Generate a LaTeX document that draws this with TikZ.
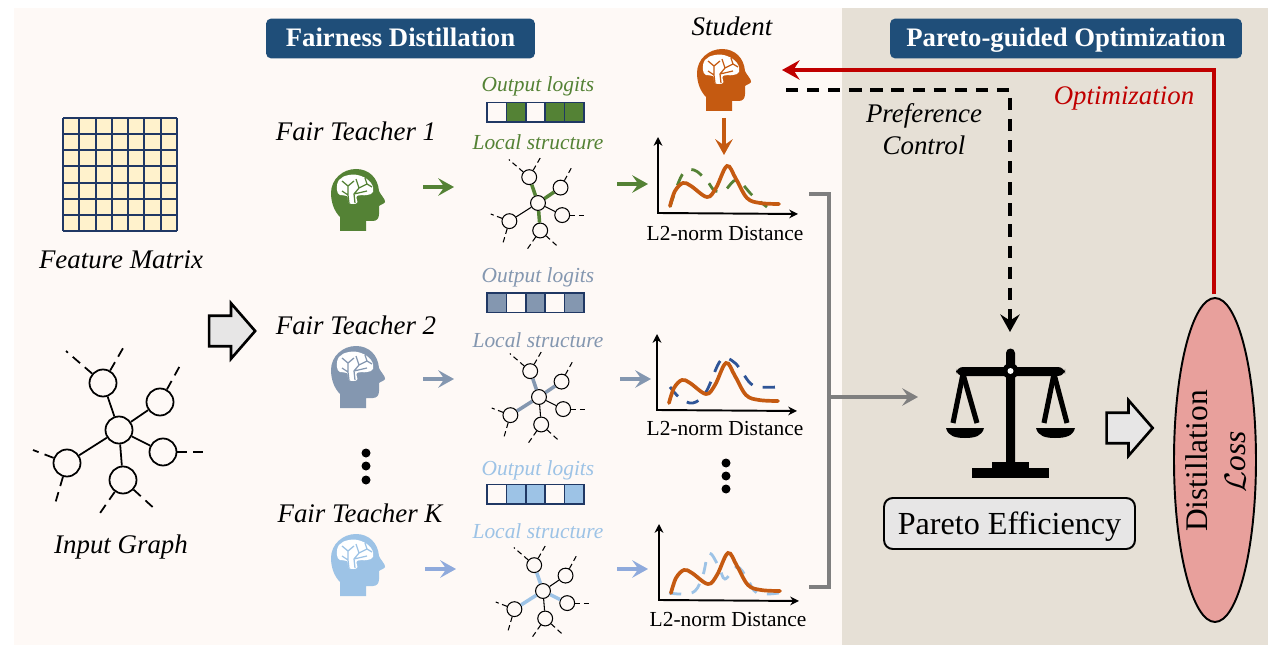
\documentclass[tikz,border=0pt]{standalone}
\usepackage{fontspec}
\setmainfont{Liberation Serif}
\usetikzlibrary{arrows.meta,shapes.arrows,shapes.geometric}

\definecolor{paleback}{HTML}{FEF9F6}
\definecolor{beigeback}{HTML}{E6E0D6}
\definecolor{titleblue}{HTML}{1F4E79}
\definecolor{gridblue}{HTML}{203864}
\definecolor{cellyellow}{HTML}{FFF2CC}
\definecolor{teachone}{HTML}{548235}
\definecolor{teachtwo}{HTML}{8497B0}
\definecolor{teachk}{HTML}{9DC3E6}
\definecolor{arrowk}{HTML}{8FAADC}
\definecolor{studorange}{HTML}{C55A11}
\definecolor{curveblue}{HTML}{2F5597}
\definecolor{optred}{HTML}{C00000}
\definecolor{lossred}{HTML}{E8A09C}
\definecolor{boxgray}{HTML}{E7E6E6}
\definecolor{linegray}{HTML}{7F7F7F}

\tikzset{
  gnode/.style={circle,draw,fill=paleback,inner sep=0pt},
  lab/.style={font=\fontsize{15.3}{18}\selectfont\itshape,inner sep=0pt,text height=10.2pt,text depth=0pt},
  sublab/.style={font=\fontsize{12.2}{14}\selectfont\itshape,inner sep=0pt,text height=8.2pt,text depth=0pt},
  xlab/.style={font=\fontsize{12.2}{14}\selectfont,inner sep=0pt,text height=8.2pt,text depth=0pt},
  titlebox/.style={fill=titleblue,rounded corners=3pt,text=white,inner sep=0pt,text height=9.6pt,text depth=0pt,
    font=\fontsize{15.2}{18}\selectfont\bfseries,minimum height=0.8cm},
  blockarrow/.style={single arrow,draw,line width=1.5pt,fill=boxgray,inner sep=0pt,
    minimum height=0.92cm,minimum width=1.06cm,single arrow head extend=0.25cm,
    single arrow tip angle=98},
  flow/.style={line width=1.9pt,-{Stealth[length=9pt,width=10pt,inset=3.5pt]}},
  axis/.style={line width=1.1pt,{Stealth[length=5pt,width=5pt]}-{Stealth[length=5pt,width=5pt]}},
  dashcurve/.style={line width=1.6pt,dash pattern=on 7pt off 6pt},
}

% head with brain, #1 = centre, #2 = colour
\newcommand{\headicon}[2]{
  \begin{scope}[shift={(#1)}]
    \fill[#2] (-19,31) -- (-19,17) .. controls (-25,11) and (-28,2) .. (-28,-7)
      .. controls (-28,-21) and (-16,-31) .. (-3,-31)
      .. controls (10,-31) and (19,-22) .. (20,-9)
      .. controls (21,-6) and (27,0) .. (26,2)
      .. controls (25,4) and (21,5) .. (20,6) -- (20,14)
      .. controls (20,18) and (18,21) .. (14,21) -- (7,21) -- (7,31) -- cycle;
    \fill[white] plot[smooth cycle,tension=0.7] coordinates {(-22,-10) (-20,-20) (-10,-25) (2,-24)
      (12,-17) (14,-8) (8,-5) (-2,-4) (-2,3) (-10,3) (-12,-4) (-19,-5)};
    \draw[#2,line width=0.7pt] (-10,3) -- (-11,-5) -- (-17,-9) (-11,-5) -- (-11,-14) -- (-17,-19)
      (-11,-14) -- (-5,-19) (-4,3) -- (-5,-6) -- (0,-12) -- (-3,-21) (0,-12) -- (8,-16) -- (6,-22)
      (-5,-6) -- (8,-9) (8,-16) -- (13,-13);
  \end{scope}
}

% #1 = name, #2 = centre, #3 = scale, #4 = line width, #5 = colour of thick edges, #6 = thick edges
\newcommand{\gnet}[6]{
  \begin{scope}[shift={(#2)},scale=#3,line width=#4]
    \node[gnode,minimum size=#3*0.54cm] (#1m) at (0,0) {};
    \foreach \n/\px/\py in {a/-16/-47,b/41/-28,c/44/22,d/4/50,e/-52/33}
      \node[gnode,minimum size=#3*0.54cm] (#1\n) at (\px,\py) {};
    \foreach \n in {a,b,c,d,e} \draw (#1m) -- (#1\n);
    \foreach \n in {#6} \draw[#5,line width=2pt] (#1m) -- (#1\n);
    \foreach \n/\px/\py in {a/-53/-79,a/7/-87,b/63/-68,c/90/22,d/38/81,d/-21/86,e/-86/20,e/-64/74}
    {
      \coordinate (#1f\n) at (\px,\py);
      \draw[dash pattern=on #3*5.5pt off #3*3.6pt] (#1\n) -- (#1f\n);
    }
  \end{scope}
}

% #1 = top edge, #2 = colour, #3 = filled cells
\newcommand{\logitbar}[3]{
  \foreach \i in {0,...,4}
    \draw[gridblue,line width=0.9pt] (487+19.4*\i,#1) rectangle (487+19.4*\i+19.4,#1+19.5);
  \foreach \i in {#3}
    \filldraw[fill=#2,draw=gridblue,line width=0.9pt] (487+19.4*\i,#1) rectangle (487+19.4*\i+19.4,#1+19.5);
}

% #1 = name, #2 = origin, #3 = colour, #4 = dashed curve
\newcommand{\distplot}[4]{
  \begin{scope}[shift={(#2)}]
    \coordinate (#1o) at (0,0);
    \coordinate (#1y) at (0,-76);
    \coordinate (#1x) at (140,1);
    \draw[axis] (#1y) -- (#1o) -- (#1x);
    \draw[#3,dashcurve] plot[smooth,tension=0.6] coordinates {#4};
    \draw[studorange,line width=2.1pt,line cap=round] plot[smooth,tension=0.6] coordinates
      {(12,-7) (17,-22) (25,-30) (33,-27) (49,-16) (58,-25) (69,-47) (78,-34) (89,-15) (102,-10) (121,-9)};
  \end{scope}
}

\begin{document}
\begin{tikzpicture}[x=0.02cm,y=-0.02cm]
  \useasboundingbox (0,0) rectangle (1276,652);
  \fill[paleback] (14,8) rectangle (842,645);
  \fill[beigeback] (842,8) rectangle (1268,645);

  \node[titlebox,minimum width=5.38cm] (titlefair) at (400.5,38.5) {Fairness Distillation};
  \node[titlebox,minimum width=7.04cm] (titlepareto) at (1066,38.5) {Pareto-guided Optimization};

  % inputs
  \fill[cellyellow] (63,118) rectangle (177,231);
  \foreach \i in {0,...,7}
  {
    \draw[gridblue,line width=1.1pt] (63+16.29*\i,118) -- (63+16.29*\i,231);
    \draw[gridblue,line width=1.1pt] (63,118+16.14*\i) -- (177,118+16.14*\i);
  }
  \node[lab] (matrixlab) at (121,260) {Feature Matrix};
  \gnet{in}{119,430}{1}{1pt}{black}{}
  \node[lab] (graphlab) at (121,545) {Input Graph};
  \node[blockarrow] (inarrow) at (225.5,331) {\rule{0pt}{0.56cm}};

  % teachers
  \node[lab] (teachlab1) at (356,132) {Fair Teacher 1};
  \node[lab] (teachlab2) at (356,326) {Fair Teacher 2};
  \node[lab] (teachlabk) at (360,514) {Fair Teacher K};
  \headicon{359,200}{teachone}
  \headicon{359,377}{teachtwo}
  \headicon{359,565}{teachk}
  \foreach \y in {453,466,480} \fill (366,\y) circle [radius=4.5];
  \foreach \y in {463,476,489} \fill (726,\y) circle [radius=4.5];

  % local views
  \node[sublab,text=teachone] (logitlab1) at (538,84) {Output logits};
  \node[sublab,text=teachtwo] (logitlab2) at (538,275) {Output logits};
  \node[sublab,text=teachk] (logitlabk) at (538,468) {Output logits};
  \logitbar{102.5}{teachone}{1,3,4}
  \logitbar{293}{teachtwo}{0,2,4}
  \logitbar{484.5}{teachk}{1,2,4}
  \node[sublab,text=teachone] (locallab1) at (538,142) {Local structure};
  \node[sublab,text=teachtwo] (locallab2) at (538,340) {Local structure};
  \node[sublab,text=teachk] (locallabk) at (538,531) {Local structure};
  \gnet{gone}{538,203}{0.55}{0.6pt}{teachone}{a,b,d}
  \gnet{gtwo}{539,397}{0.55}{0.6pt}{teachtwo}{a,b,e}
  \gnet{gk}{543,591}{0.55}{0.6pt}{teachk}{a,c,e}

  % distance plots
  \distplot{pone}{658,213}{teachone}{(12,-6) (24,-38) (36,-43) (49,-32) (57,-22) (67,-23) (79,-33) (94,-18) (109,-6)}
  \distplot{ptwo}{657,410}{curveblue}{(13,-23) (23,-12) (36,-7) (49,-18) (64,-50) (78,-47) (93,-27) (103,-23) (121,-23)}
  \distplot{pk}{659,600}{teachk}{(10,-7) (23,-6) (36,-9) (44,-25) (50,-47) (60,-33) (66,-21) (78,-33) (88,-22) (98,-7) (120,-7)}
  \node[xlab] (xlab1) at (725,233) {L2-norm Distance};
  \node[xlab] (xlab2) at (725,428) {L2-norm Distance};
  \node[xlab] (xlabk) at (728,619) {L2-norm Distance};

  \foreach \n/\clr/\xa/\ya/\xb/\yb in {one/teachone/423/187/617/184,two/teachtwo/423/379/620/379,k/arrowk/425/569/617/569}
  {
    \coordinate (t\n out) at (\xa,\ya);
    \coordinate (g\n in) at (\xa+31,\ya);
    \coordinate (g\n out) at (\xb,\yb);
    \coordinate (p\n in) at (\xb+31,\yb);
    \draw[flow,\clr] (t\n out) -- (g\n in);
    \draw[flow,\clr] (g\n out) -- (p\n in);
  }

  % student
  \node[lab] (studlab) at (732,27) {Student};
  \headicon{725,80}{studorange}
  \coordinate (studout) at (724,118);
  \coordinate (studplot) at (724,155);
  \draw[flow,studorange] (studout) -- (studplot);

  % gather
  \coordinate (brkt) at (809,194);
  \coordinate (brkb) at (809,587);
  \coordinate (brkm) at (829,397);
  \coordinate (scalein) at (918,397);
  \draw[linegray,line width=1.9pt] (brkt) -| (brkm) |- (brkb);
  \draw[linegray,flow] (brkm) -- (scalein);

  % balance
  \fill (1006,353) arc (180:360:4.5) -- (1015,463) -- (1006,463) -- cycle;
  \fill[rounded corners=4pt] (956,367) rectangle (1065,376);
  \fill (992,462) rectangle (1029,468);
  \fill (972,468) rectangle (1049,478);
  \foreach \xa/\xb in {953/963,977/963,1044/1054,1067/1054}
    \draw[line width=2.9pt] (\xa,423) -- (\xb,374);
  \fill (946,428) -- (984,428) .. controls (982,436) and (975,438) .. (965,438) .. controls (955,438) and (948,436) .. (946,428) -- cycle;
  \fill (1036,428) -- (1075,428) .. controls (1073,436) and (1066,438) .. (1055,438) .. controls (1045,438) and (1038,436) .. (1036,428) -- cycle;
  \fill (1010.5,371) circle [radius=8];
  \fill[white] (1010.5,371) circle [radius=3];

  \node[draw,line width=1.1pt,fill=boxgray,rounded corners=5pt,inner sep=0pt,minimum width=5.02cm,minimum height=1.02cm,
    text height=12.2pt,text depth=0pt,font=\fontsize{18.3}{20}\selectfont] (pareto) at (1009.5,523.5) {Pareto Efficiency};
  \node[blockarrow] (lossarrow) at (1123,428) {\rule{0pt}{0.56cm}};

  % loss
  \node[ellipse,draw,line width=1.1pt,fill=lossred,minimum width=1.64cm,minimum height=6.48cm,inner sep=0pt] (loss) at (1215,460) {};
  \node[rotate=90,inner sep=0pt,text height=12pt,text depth=0pt,font=\fontsize{17.9}{20}\selectfont] (losstxt) at (1197,461) {Distillation};
  \node[rotate=90,inner sep=0pt,text height=12pt,text depth=0pt,font=\fontsize{17.9}{20}\selectfont\itshape] (losssym) at (1235,462) {$\mathcal{L}$oss};

  % feedback
  \coordinate (studin) at (782,70);
  \coordinate (lossout) at (1214,294);
  \draw[optred,line width=1.9pt,-{Stealth[length=10pt,width=11pt,inset=3.5pt]}] (lossout) |- (studin);
  \node[lab,text=optred] (optlab) at (1124,96) {Optimization};
  \coordinate (prefout) at (786,90);
  \coordinate (scaletop) at (1010,332);
  \draw[line width=1.9pt,dash pattern=on 7pt off 5pt,-{Stealth[length=10pt,width=11pt,inset=3.5pt]}] (prefout) -| (scaletop);
  \node[lab] (preflab1) at (924,114) {Preference};
  \node[lab] (preflab2) at (924,146) {Control};
\end{tikzpicture}
\end{document}
